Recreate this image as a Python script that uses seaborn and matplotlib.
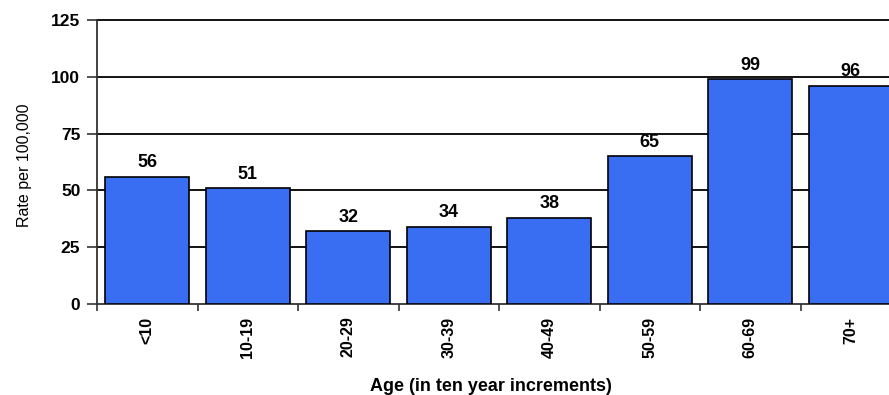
import matplotlib
matplotlib.use("Agg")
import matplotlib.pyplot as plt
import seaborn as sns
import pandas as pd
import numpy as np

age_groups = ["<10", "10-19", "20-29", "30-39", "40-49", "50-59", "60-69", "70+"]
rates = [56, 51, 32, 34, 38, 65, 99, 96]
y_ticks = [0, 25, 50, 75, 100, 125]

sns.set_theme(style="white")
plt.rcParams["font.family"] = ["Liberation Sans", "DejaVu Sans"]
plt.rcParams["text.color"] = "black"
plt.rcParams["xtick.color"] = "black"
plt.rcParams["ytick.color"] = "black"
plt.rcParams["axes.labelcolor"] = "black"

df = pd.DataFrame({"age": age_groups, "rate": rates})

fig = plt.figure(figsize=(8.89, 3.95), dpi=100)
ax = fig.add_axes([97 / 889, 91 / 395, 804 / 889, 284 / 395])

sns.barplot(data=df, x="age", y="rate", color="#3A6EF2", saturation=1,
            width=0.84, edgecolor="black", linewidth=1.2, ax=ax, zorder=3)

ax.set_ylim(0, 125)
ax.set_xlim(-0.5, len(age_groups) - 0.5)
ax.set_yticks(y_ticks)
ax.set_yticklabels([str(t) for t in y_ticks], fontsize=12.5, fontweight="bold")
for y in y_ticks[1:]:
    ax.axhline(y, color="black", linewidth=1.3, zorder=1, clip_on=False)

# category boundaries get tick marks, labels sit at category centers
ax.set_xticks(np.arange(len(age_groups) + 1) - 0.5)
ax.set_xticklabels([])
ax.set_xticks(np.arange(len(age_groups)), minor=True)
ax.set_xticklabels(age_groups, minor=True, rotation=90, fontsize=11.5,
                   fontweight="bold", va="top")
ax.tick_params(axis="x", which="major", direction="out", length=5, width=1.2,
               color="#333333", bottom=True)
ax.tick_params(axis="x", which="minor", length=0, pad=9)
ax.tick_params(axis="y", direction="out", length=7, width=1.2, color="#333333",
               left=True, pad=5)

for side in ["top", "right"]:
    ax.spines[side].set_visible(False)
for side in ["left", "bottom"]:
    ax.spines[side].set_color("#333333")
    ax.spines[side].set_linewidth(1.3)

for i, v in enumerate(rates):
    ax.annotate(str(v), xy=(i, v), xytext=(0, 4), textcoords="offset points",
                ha="center", va="bottom", fontsize=13, fontweight="bold",
                zorder=4)

ax.set_xlabel("Age (in ten year increments)", fontsize=13, fontweight="bold")
ax.xaxis.set_label_coords(0.49, -0.292)
ax.xaxis.label.set_va("center")
ax.set_ylabel("Rate per 100,000", fontsize=11.5)
ax.yaxis.set_label_coords(-0.0896, 0.489)
ax.yaxis.label.set_va("center")

fig.savefig("out.png", dpi=100)
